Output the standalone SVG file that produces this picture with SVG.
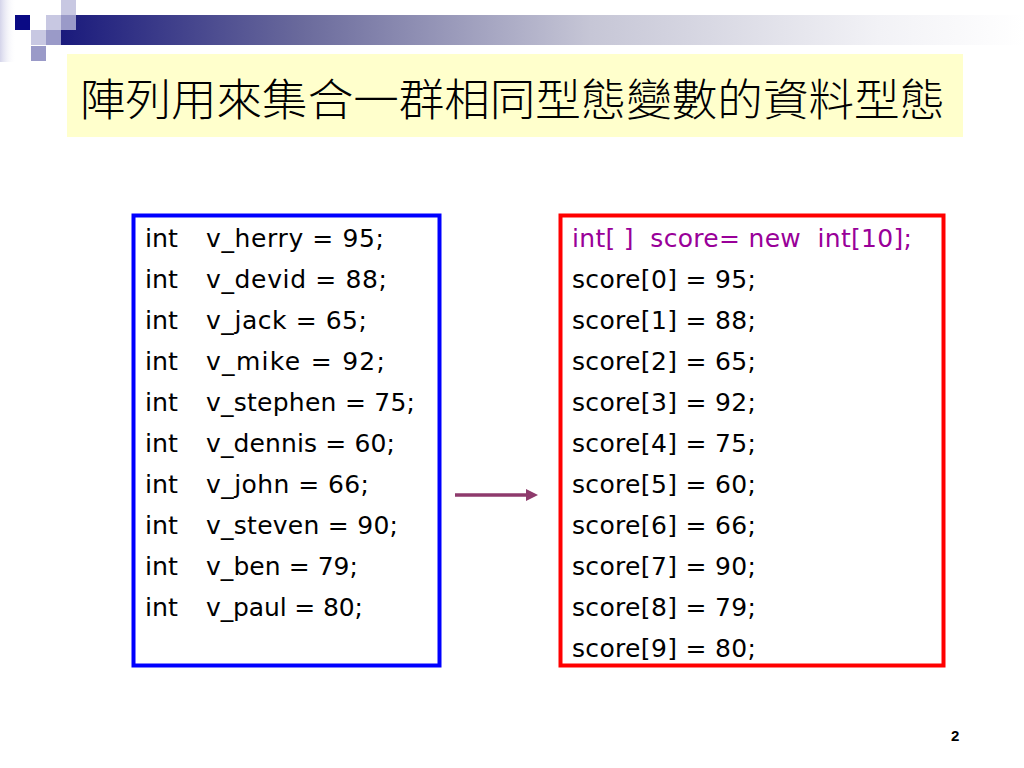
<svg xmlns="http://www.w3.org/2000/svg" width="1024" height="768" viewBox="0 0 1024 768">
<defs>
<linearGradient id="bar" x1="61" y1="0" x2="1024" y2="0" gradientUnits="userSpaceOnUse">
<stop offset="0" stop-color="#1a1a7c"/>
<stop offset="0.25" stop-color="#6a6a9c"/>
<stop offset="0.55" stop-color="#c6c6d6"/>
<stop offset="0.85" stop-color="#f2f2f6"/>
<stop offset="1" stop-color="#ffffff"/>
</linearGradient>
<linearGradient id="edge" x1="0" y1="0" x2="1" y2="0">
<stop offset="0" stop-color="#d4d4ea"/>
<stop offset="1" stop-color="#ffffff" stop-opacity="0"/>
</linearGradient>
<marker id="ah" viewBox="0 0 12 12" refX="2" refY="6" markerWidth="12" markerHeight="12" markerUnits="userSpaceOnUse" orient="auto">
<path d="M0,0 L12,6 L0,12 Z" fill="#8e3a6c"/>
</marker>
</defs>
<style>
.code{font-family:"DejaVu Sans","Open Sans",sans-serif;font-size:25px;fill:#000}
.decl{fill:#990099}
.title{font-family:"Noto Sans CJK TC","Noto Sans CJK SC",sans-serif;font-size:44px;font-weight:300;fill:#000}
.pg{font-family:"Liberation Sans",Arial,sans-serif;font-size:15px;font-weight:bold;fill:#000}
.light{fill:#c8c8e2}
.mid{fill:#9a9ac8}
.dark{fill:#0a0a84}
</style>
<rect width="1024" height="768" fill="#ffffff"/>
<g id="decoration">
<rect x="0" y="0" width="16" height="62" fill="url(#edge)"/>
<rect x="61" y="15" width="963" height="30" fill="url(#bar)"/>
<rect class="dark" x="15" y="15" width="15" height="15"/>
<rect class="light" x="46" y="15" width="15" height="15"/>
<rect class="light" x="61" y="0" width="15" height="15"/>
<rect class="mid" x="61" y="15" width="15" height="15"/>
<rect class="light" x="31" y="30" width="15" height="15"/>
<rect class="mid" x="46" y="30" width="15" height="15"/>
<rect class="mid" x="31" y="46" width="15" height="15"/>
</g>
<g id="title">
<rect x="67" y="54" width="896" height="83" fill="#ffffcc"/>
<text class="title" x="80" y="116" textLength="865" lengthAdjust="spacingAndGlyphs">陣列用來集合一群相同型態變數的資料型態</text>
</g>
<g id="variables">
<rect x="133.5" y="215.5" width="306" height="450" fill="none" stroke="#0000ff" stroke-width="4"/>
<text class="code" x="145" y="247" textLength="33" lengthAdjust="spacingAndGlyphs">int</text><text class="code" x="206" y="247" textLength="178" lengthAdjust="spacing">v_herry = 95;</text>
<text class="code" x="145" y="288" textLength="33" lengthAdjust="spacingAndGlyphs">int</text><text class="code" x="206" y="288" textLength="181" lengthAdjust="spacing">v_devid = 88;</text>
<text class="code" x="145" y="329" textLength="33" lengthAdjust="spacingAndGlyphs">int</text><text class="code" x="206" y="329" textLength="161" lengthAdjust="spacing">v_jack = 65;</text>
<text class="code" x="145" y="370" textLength="33" lengthAdjust="spacingAndGlyphs">int</text><text class="code" x="206" y="370" textLength="179" lengthAdjust="spacing">v_mike = 92;</text>
<text class="code" x="145" y="411" textLength="33" lengthAdjust="spacingAndGlyphs">int</text><text class="code" x="206" y="411" textLength="209" lengthAdjust="spacing">v_stephen = 75;</text>
<text class="code" x="145" y="452" textLength="33" lengthAdjust="spacingAndGlyphs">int</text><text class="code" x="206" y="452" textLength="189" lengthAdjust="spacing">v_dennis = 60;</text>
<text class="code" x="145" y="493" textLength="33" lengthAdjust="spacingAndGlyphs">int</text><text class="code" x="206" y="493" textLength="163" lengthAdjust="spacing">v_john = 66;</text>
<text class="code" x="145" y="534" textLength="33" lengthAdjust="spacingAndGlyphs">int</text><text class="code" x="206" y="534" textLength="192" lengthAdjust="spacing">v_steven = 90;</text>
<text class="code" x="145" y="575" textLength="33" lengthAdjust="spacingAndGlyphs">int</text><text class="code" x="206" y="575" textLength="152" lengthAdjust="spacing">v_ben = 79;</text>
<text class="code" x="145" y="616" textLength="33" lengthAdjust="spacingAndGlyphs">int</text><text class="code" x="206" y="616" textLength="157" lengthAdjust="spacing">v_paul = 80;</text>
</g>
<g id="array">
<rect x="560.5" y="215.5" width="383" height="450" fill="none" stroke="#ff0000" stroke-width="4"/>
<text class="code decl" x="572" y="247" xml:space="preserve" textLength="340" lengthAdjust="spacing">int[ ]  score= new  int[10];</text>
<text class="code" x="572" y="288" textLength="184" lengthAdjust="spacing">score[0] = 95;</text>
<text class="code" x="572" y="329" textLength="184" lengthAdjust="spacing">score[1] = 88;</text>
<text class="code" x="572" y="370" textLength="184" lengthAdjust="spacing">score[2] = 65;</text>
<text class="code" x="572" y="411" textLength="184" lengthAdjust="spacing">score[3] = 92;</text>
<text class="code" x="572" y="452" textLength="184" lengthAdjust="spacing">score[4] = 75;</text>
<text class="code" x="572" y="493" textLength="184" lengthAdjust="spacing">score[5] = 60;</text>
<text class="code" x="572" y="534" textLength="184" lengthAdjust="spacing">score[6] = 66;</text>
<text class="code" x="572" y="575" textLength="184" lengthAdjust="spacing">score[7] = 90;</text>
<text class="code" x="572" y="616" textLength="184" lengthAdjust="spacing">score[8] = 79;</text>
<text class="code" x="572" y="657" textLength="184" lengthAdjust="spacing">score[9] = 80;</text>
</g>
<g id="connectors">
<line x1="455" y1="495" x2="528" y2="495" stroke="#8e3a6c" stroke-width="3.5" marker-end="url(#ah)"/>
</g>
<g id="page">
<text class="pg" x="951" y="741">2</text>
</g>
</svg>
